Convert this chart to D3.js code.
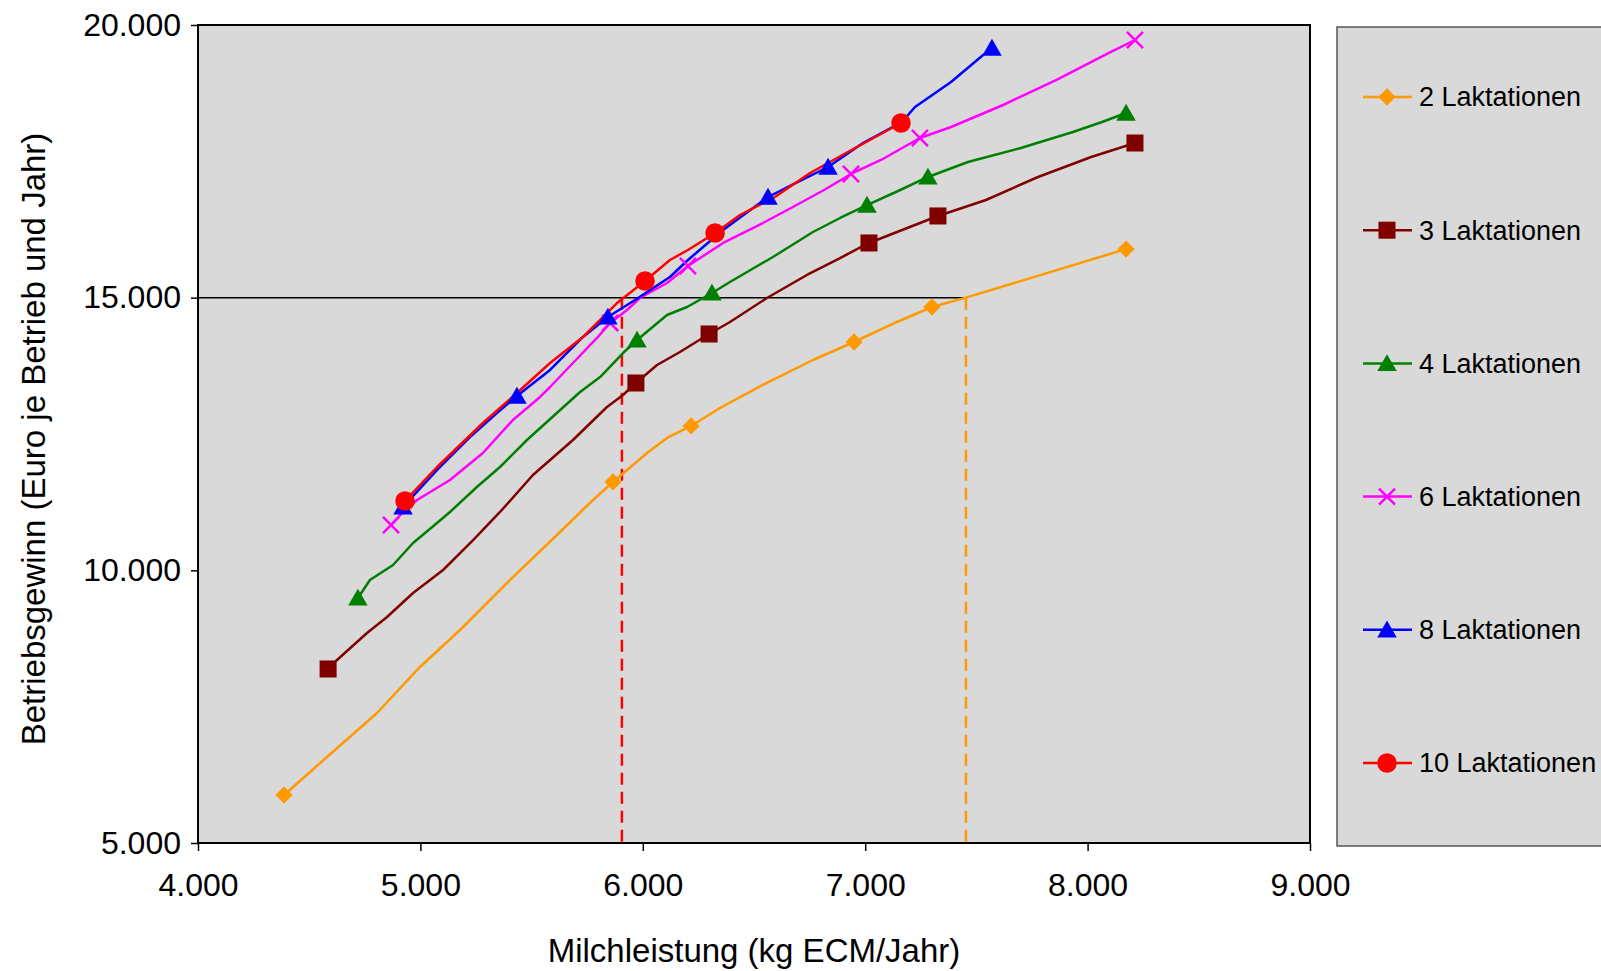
<!DOCTYPE html>
<html>
<head>
<meta charset="utf-8">
<script src="https://cdn.jsdelivr.net/npm/d3@7"></script>
<style>
  body { margin: 0; background: #fff; }
  svg { display: block; font-family: "Liberation Sans", Arial, sans-serif; }
</style>
</head>
<body>
<svg id="chart" width="1601" height="971"></svg>
<script>
// Betriebsgewinn je nach Nutzungsdauer (Laktationen)
var seriesNames = ['2 Laktationen', '3 Laktationen', '4 Laktationen', '6 Laktationen', '8 Laktationen', '10 Laktationen'];
var seriesColors = ['#FF9900', '#800000', '#008000', '#FF00FF', '#0000FF', '#FF0000'];
var seriesSymbols = ['diamond', 'square', 'triangle', 'cross', 'triangle', 'circle'];

var xTicks = [4000, 5000, 6000, 7000, 8000, 9000];
var yTicks = [5000, 10000, 15000, 20000];

// Linienverlauf (kg ECM/Jahr, Euro)
var line2 = [[4387,5881],[4580,6577],[4805,7384],[4998,8228],[5178,8906],[5403,9823],[5628,10703],[5776,11290],[5866,11620],[6019,12152],[6109,12427],[6217,12647],[6347,12977],[6540,13399],[6765,13857],[6950,14187],[7143,14554],[7300,14829],[7453,15000],[8173,15892]];
var line3 = [[4585,8191],[4625,8356],[4760,8851],[4850,9144],[4967,9585],[5102,10006],[5237,10556],[5358,11070],[5506,11748],[5686,12390],[5839,12995],[5911,13215],[5969,13435],[6064,13765],[6167,14004],[6298,14334],[6392,14554],[6558,14994],[6738,15416],[6887,15727],[7017,16003],[7143,16204],[7327,16498],[7543,16791],[7777,17213],[8016,17580],[8213,17836]];
var line4 = [[4719,9493],[4773,9823],[4877,10098],[4967,10501],[5052,10790],[5133,11070],[5254,11528],[5358,11895],[5479,12390],[5718,13270],[5808,13545],[5911,13985],[5974,14224],[6109,14682],[6199,14829],[6311,15086],[6392,15287],[6585,15746],[6765,16204],[6887,16461],[7008,16699],[7148,16956],[7282,17213],[7462,17488],[7700,17745],[7934,18038],[8065,18221],[8173,18386]];
var line6 = [[4868,10831],[4922,11070],[4985,11290],[5133,11657],[5281,12152],[5416,12757],[5538,13179],[5583,13362],[5686,13802],[5794,14261],[5853,14536],[5929,14774],[5987,14994],[6109,15269],[6203,15581],[6361,16003],[6540,16369],[6675,16663],[6815,16974],[6936,17268],[7071,17525],[7246,17928],[7386,18130],[7620,18533],[7858,18991],[8096,19487],[8213,19725]];
var line8 = [[4922,11162],[5075,11840],[5223,12445],[5344,12885],[5434,13197],[5583,13674],[5731,14279],[5843,14646],[5965,14957],[6122,15379],[6203,15691],[6361,16241],[6563,16846],[6689,17103],[6833,17396],[6990,17836],[7165,18221],[7224,18496],[7386,18955],[7525,19432],[7570,19578]];
var line10 = [[4931,11272],[5075,11895],[5281,12702],[5434,13252],[5583,13802],[5731,14279],[5884,14902],[6010,15306],[6122,15691],[6203,15874],[6325,16186],[6437,16516],[6594,16846],[6752,17286],[6914,17653],[7161,18203]];

// Markierte Punkte
var marks2 = [[4387,5881],[5866,11620],[6217,12647],[6950,14187],[7300,14829],[8173,15892]];
var marks3 = [[4585,8191],[5969,13435],[6298,14334],[7017,16003],[7327,16498],[8213,17836]];
var marks4 = [[4719,9493],[5974,14224],[6311,15086],[7008,16699],[7282,17213],[8173,18386]];
var marks6 = [[4868,10831],[5853,14536],[6203,15581],[6936,17268],[7246,17928],[8213,19725]];
var marks8 = [[4922,11162],[5434,13197],[5843,14646],[6563,16846],[6833,17396],[7570,19578]];
var marks10 = [[4931,11272],[6010,15306],[6325,16186],[7161,18203]];

// Hilfslinien bei 15.000 Euro
var targetProfit = 15000;
var targetMilk10 = 5906;
var targetMilk2 = 7453;

var lines = [line2, line3, line4, line6, line8, line10];
var marks = [marks2, marks3, marks4, marks6, marks8, marks10];

var svg = d3.select('#chart');
var plotLeft = 198, plotRight = 1310, plotTop = 25, plotBottom = 843;

var x = d3.scaleLinear().domain([4000, 9000]).range([plotLeft, plotRight]);
var y = d3.scaleLinear().domain([5000, 20000]).range([plotBottom, plotTop]);

var de = d3.formatLocale({decimal: ',', thousands: '.', grouping: [3], currency: ['', ' €']});
var fmt = de.format(',.0f');

svg.append('rect')
    .attr('x', plotLeft).attr('y', plotTop)
    .attr('width', plotRight - plotLeft).attr('height', plotBottom - plotTop)
    .attr('fill', '#D9D9D9');

// 15.000-Linie und gestrichelte Senkrechten
svg.append('line')
    .attr('x1', x(4000)).attr('x2', x(targetMilk2))
    .attr('y1', y(targetProfit)).attr('y2', y(targetProfit))
    .attr('stroke', '#000').attr('stroke-width', 1.5);

svg.append('line')
    .attr('x1', x(targetMilk10)).attr('x2', x(targetMilk10))
    .attr('y1', y(targetProfit)).attr('y2', y(5000))
    .attr('stroke', '#FF0000').attr('stroke-width', 2.5)
    .attr('stroke-dasharray', '12,7');

svg.append('line')
    .attr('x1', x(targetMilk2)).attr('x2', x(targetMilk2))
    .attr('y1', y(targetProfit)).attr('y2', y(5000))
    .attr('stroke', '#FF9900').attr('stroke-width', 2.5)
    .attr('stroke-dasharray', '12,7');

var lineGen = d3.line()
    .x(function(d) { return x(d[0]); })
    .y(function(d) { return y(d[1]); });

function symbolFor(name) {
    if (name == 'diamond') return d3.symbol().type(d3.symbolDiamond2).size(190);
    if (name == 'square') return d3.symbol().type(d3.symbolSquare).size(290);
    if (name == 'triangle') return d3.symbol().type(d3.symbolTriangle).size(165);
    if (name == 'cross') return d3.symbol().type(d3.symbolTimes).size(170);
    return d3.symbol().type(d3.symbolCircle).size(300);
}

function drawMarker(g, name, color) {
    var path = g.append('path').attr('d', symbolFor(name)());
    if (name == 'cross') {
        path.attr('fill', 'none').attr('stroke', color).attr('stroke-width', 2.5);
    } else {
        path.attr('fill', color);
    }
    if (name == 'triangle') path.attr('transform', 'translate(0,2)');
    return path;
}

lines.forEach(function(data, i) {
    svg.append('path')
        .datum(data)
        .attr('d', lineGen)
        .attr('fill', 'none')
        .attr('stroke', seriesColors[i])
        .attr('stroke-width', 2.5)
        .attr('stroke-linejoin', 'round');
});

marks.forEach(function(data, i) {
    svg.selectAll(null)
        .data(data)
        .enter()
        .append('g')
        .attr('transform', function(d) { return 'translate(' + x(d[0]) + ',' + y(d[1]) + ')'; })
        .each(function() { drawMarker(d3.select(this), seriesSymbols[i], seriesColors[i]); });
});

// Rahmen des Diagramms
svg.append('rect')
    .attr('x', plotLeft).attr('y', plotTop)
    .attr('width', plotRight - plotLeft).attr('height', plotBottom - plotTop)
    .attr('fill', 'none').attr('stroke', '#000').attr('stroke-width', 2);

var yAxis = svg.append('g')
    .attr('transform', 'translate(' + plotLeft + ',0)')
    .call(d3.axisLeft(y).tickValues(yTicks).tickFormat(fmt).tickSize(7).tickPadding(10));
var xAxis = svg.append('g')
    .attr('transform', 'translate(0,' + plotBottom + ')')
    .call(d3.axisBottom(x).tickValues(xTicks).tickFormat(fmt).tickSize(8).tickPadding(22));

[xAxis, yAxis].forEach(function(ax) {
    ax.select('.domain').remove();
    ax.selectAll('line').attr('stroke', '#000').attr('stroke-width', 1.5);
    ax.selectAll('text')
        .attr('fill', '#000')
        .style('font-family', '"Liberation Sans", Arial, sans-serif')
        .style('font-size', '32px');
});

svg.append('text')
    .attr('x', (plotLeft + plotRight) / 2)
    .attr('y', 962)
    .attr('text-anchor', 'middle')
    .style('font-size', '33px')
    .text('Milchleistung (kg ECM/Jahr)');

svg.append('text')
    .attr('transform', 'translate(45,439) rotate(-90)')
    .attr('text-anchor', 'middle')
    .style('font-size', '33px')
    .text('Betriebsgewinn (Euro je Betrieb und Jahr)');

// Legende
var legend = svg.append('g');
legend.append('rect')
    .attr('x', 1337).attr('y', 27)
    .attr('width', 300).attr('height', 819)
    .attr('fill', '#D9D9D9').attr('stroke', '#555').attr('stroke-width', 1.5);

var ly = d3.scalePoint().domain(seriesNames).range([97, 763]);

seriesNames.forEach(function(name, i) {
    var row = legend.append('g').attr('transform', 'translate(0,' + ly(name) + ')');
    row.append('line')
        .attr('x1', 1363).attr('x2', 1412)
        .attr('stroke', seriesColors[i]).attr('stroke-width', 2.5);
    var m = row.append('g').attr('transform', 'translate(1387,0)');
    drawMarker(m, seriesSymbols[i], seriesColors[i]);
    row.append('text')
        .attr('x', 1419)
        .attr('dy', '0.35em')
        .style('font-size', '27px')
        .text(name);
});
</script>
</body>
</html>
